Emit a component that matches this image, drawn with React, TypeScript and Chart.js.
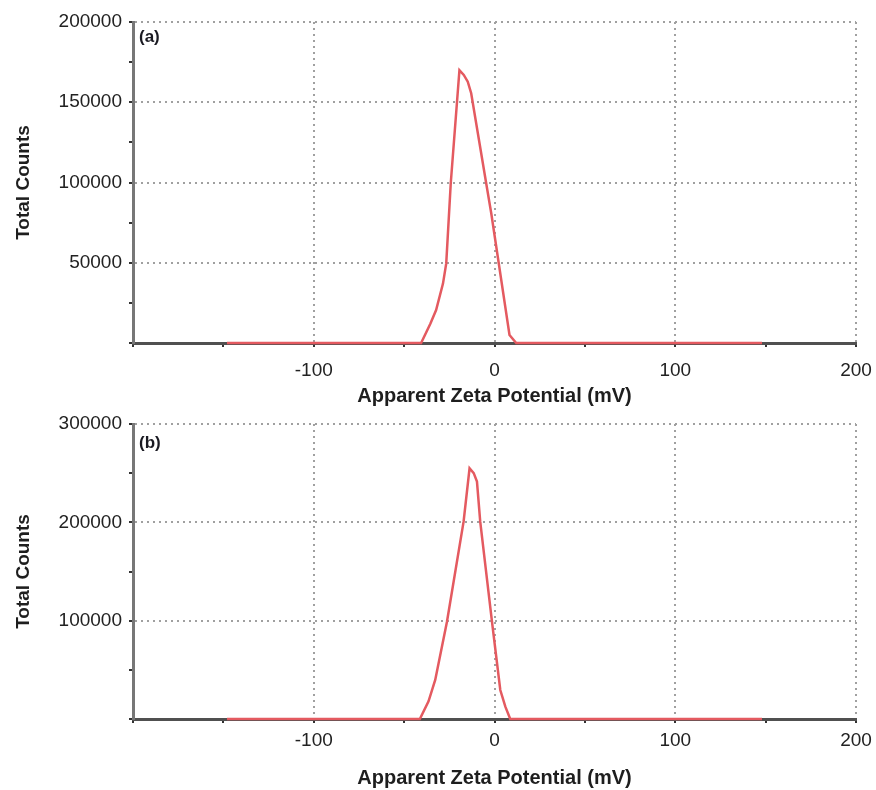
import React, { useEffect, useRef } from 'react';
import { Chart, registerables } from 'chart.js';

Chart.register(...registerables);

// Panel (a)
const xA = [-148, -40.6, -35.5, -32.3, -28.5, -26.7, -24.2, -19.4, -17.0, -14.8, -12.9, -4.6, -1.8, 8.3, 12, 148];
const yA = [0, 0, 12000, 20500, 37000, 49600, 99500, 170000, 167000, 162800, 155600, 99500, 80800, 5000, 0, 0];

// Panel (b)
const xB = [-148, -41.3, -36.5, -32.8, -26.3, -17.1, -13.8, -11.5, -9.7, -7.9, -1.4, 3.2, 6.0, 8.7, 148];
const yB = [0, 0, 18000, 39700, 99000, 200700, 255000, 250000, 241400, 200700, 99000, 29500, 12500, 0, 0];

const xLabeled = [-100, 0, 100, 200];
const yLabeledA = [50000, 100000, 150000, 200000];
const yLabeledB = [100000, 200000, 300000];

const FONT = "'Liberation Sans', Arial, sans-serif";

interface PanelCfg {
  xs: number[];
  ys: number[];
  yMax: number;
  yStep: number;
  yLabeled: number[];
  panel: string;
  padTop: number;
  axisH: number;
  xTickPad: number;
  xTitlePadBottom: number;
  panelOffset: number;
}

function buildConfig(c: PanelCfg): any {
  const panelPlugin = {
    id: 'panelLabel',
    afterDraw(chart: any) {
      const { ctx, chartArea } = chart;
      ctx.save();
      ctx.font = `bold 17px ${FONT}`;
      ctx.fillStyle = '#1a1a22';
      ctx.textAlign = 'left';
      ctx.textBaseline = 'top';
      ctx.fillText(c.panel, chartArea.left + 6, chartArea.top + c.panelOffset);
      ctx.restore();
    },
  };
  return {
    type: 'line',
    data: {
      datasets: [
        {
          data: c.xs.map((x, i) => ({ x, y: c.ys[i] })),
          borderColor: '#e45a60',
          borderWidth: 2.5,
          pointRadius: 0,
          tension: 0,
          fill: false,
          clip: false,
        },
      ],
    },
    options: {
      responsive: false,
      animation: false,
      events: [],
      layout: { padding: { top: c.padTop, right: 20, left: 0, bottom: 0 } },
      plugins: { legend: { display: false }, tooltip: { enabled: false } },
      scales: {
        x: {
          type: 'linear',
          min: -200,
          max: 200,
          afterFit(scale: any) {
            scale.height = c.axisH;
            scale.paddingLeft = 0;
            scale.paddingRight = 0;
          },
          ticks: {
            stepSize: 50,
            autoSkip: false,
            maxRotation: 0,
            padding: c.xTickPad,
            color: '#222',
            font: { family: FONT, size: 19 },
            callback: (v: any) => (xLabeled.includes(Number(v)) ? String(v) : ''),
          },
          grid: {
            color: (ctx: any) =>
              ctx.tick && xLabeled.includes(ctx.tick.value) ? '#a0a0a0' : 'rgba(0,0,0,0)',
            lineWidth: 2,
            tickColor: '#333',
            tickLength: 4,
            tickWidth: 2,
            tickBorderDash: [],
          },
          border: { display: true, color: '#505050', width: 3, dash: [2, 4] },
          title: {
            display: true,
            text: 'Apparent Zeta Potential (mV)',
            color: '#1e1e1e',
            font: { family: FONT, size: 20, weight: 'bold' },
            padding: { top: 0, bottom: c.xTitlePadBottom },
          },
        },
        y: {
          type: 'linear',
          min: 0,
          max: c.yMax,
          afterFit(scale: any) {
            scale.width = 133;
            scale.paddingTop = 0;
            scale.paddingBottom = 0;
          },
          ticks: {
            stepSize: c.yStep,
            autoSkip: false,
            padding: 7,
            color: '#222',
            font: { family: FONT, size: 19 },
            callback: (v: any) => (c.yLabeled.includes(Number(v)) ? String(v) : ''),
          },
          grid: {
            color: (ctx: any) =>
              ctx.tick && c.yLabeled.includes(ctx.tick.value) ? '#a0a0a0' : 'rgba(0,0,0,0)',
            lineWidth: 2,
            tickColor: '#333',
            tickLength: 4,
            tickWidth: 2,
            tickBorderDash: [],
          },
          border: { display: true, color: '#777', width: 3, dash: [2, 4] },
          title: {
            display: true,
            text: 'Total Counts',
            color: '#1e1e1e',
            font: { family: FONT, size: 19, weight: 'bold' },
            padding: { top: 12, bottom: 0 },
          },
        },
      },
    },
    plugins: [panelPlugin],
  };
}

function Panel({ cfg, width, height }: { cfg: PanelCfg; width: number; height: number }) {
  const ref = useRef<HTMLCanvasElement>(null);
  useEffect(() => {
    if (!ref.current) return;
    const chart = new Chart(ref.current, buildConfig(cfg));
    return () => chart.destroy();
  }, []);
  return <canvas ref={ref} width={width} height={height} style={{ display: 'block', width, height }} />;
}

export default function App() {
  const cfgA: PanelCfg = {
    xs: xA,
    ys: yA,
    yMax: 200000,
    yStep: 25000,
    yLabeled: yLabeledA,
    panel: '(a)',
    padTop: 22,
    axisH: 67,
    xTickPad: 12,
    xTitlePadBottom: 2,
    panelOffset: 7,
  };
  const cfgB: PanelCfg = {
    xs: xB,
    ys: yB,
    yMax: 300000,
    yStep: 50000,
    yLabeled: yLabeledB,
    panel: '(b)',
    padTop: 14,
    axisH: 71,
    xTickPad: 6,
    xTitlePadBottom: 0,
    panelOffset: 11,
  };
  return (
    <div style={{ position: 'absolute', left: 0, top: 0, width: 876, height: 790, background: '#fff' }}>
      <Panel cfg={cfgA} width={876} height={410} />
      <Panel cfg={cfgB} width={876} height={380} />
    </div>
  );
}
